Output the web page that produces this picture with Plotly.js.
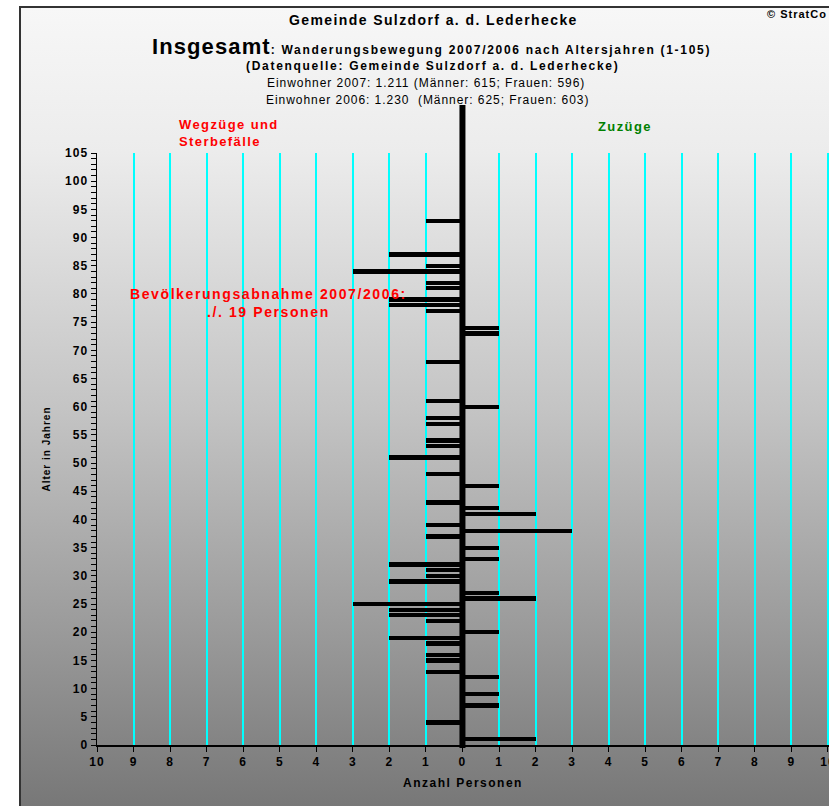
<!DOCTYPE html>
<html>
<head>
<meta charset="utf-8">
<script src="https://cdn.plot.ly/plotly-3.0.1.min.js"></script>
<style>
  html, body { margin:0; padding:0; background:#ffffff; width:829px; height:806px; overflow:hidden; }
  #bg { position:absolute; left:19px; top:6px; width:810px; height:800px;
        border-left:2px solid #333; border-top:2px solid #333;
        background: linear-gradient(to bottom, #f7f7f7 0%, #ececec 18%, #c4c4c4 50%, #9a9a9a 78%, #777777 100%); }
  #chart { position:absolute; left:0; top:0; width:829px; height:806px; }
  .xtick text, .ytick text { letter-spacing: 1px; }
</style>
</head>
<body>
<div id="bg"></div>
<div id="chart"></div>
<script>
// ---- Data ----
const leftAges   = [93,87,85,84,82,81,79,78,77,68,61,58,57,54,53,51,48,43,39,37,32,31,30,29,25,24,23,22,19,18,16,15,13,4];
const leftCounts = [1,2,1,3,1,1,2,2,1,1,1,1,1,1,1,2,1,1,1,1,2,1,1,2,3,2,2,1,2,1,1,1,1,1];
const rightAges   = [74,73,60,46,42,41,38,35,33,27,26,20,12,9,7,1];
const rightCounts = [1,1,1,1,1,2,3,1,1,1,2,1,1,1,1,2];
const xTickVals = [-10,-9,-8,-7,-6,-5,-4,-3,-2,-1,0,1,2,3,4,5,6,7,8,9,10];
const xTickText = ['10','9','8','7','6','5','4','3','2','1','0','1','2','3','4','5','6','7','8','9','10'];

// ---- Layout helpers (pixel -> paper) ----
const L = 97, R = 829, T = 153, B = 745;
const W = 829, H = 806;
const px = x => (x - L) / (R - L);
const py = y => (B - y) / (B - T);
const FONT = 'Liberation Sans, Arial, sans-serif';
const sp = (t, ls) => '<span style="letter-spacing:' + ls + 'px">' + t + '</span>';
const XRANGE = [-10, 10.03];

const traces = [
  { type:'bar', orientation:'h', y:leftAges, x:leftCounts.map(v => -v),
    marker:{color:'#000000'}, width:0.75, hoverinfo:'skip', showlegend:false },
  { type:'bar', orientation:'h', y:rightAges, x:rightCounts,
    marker:{color:'#000000'}, width:0.75, hoverinfo:'skip', showlegend:false }
];

function ann(text, x, y, size, color, opts) {
  return Object.assign({ text:text, xref:'paper', yref:'paper', x:px(x), y:py(y),
    showarrow:false, xanchor:'center', yanchor:'middle',
    font:{family:FONT, size:size, color:color} }, opts || {});
}

const layout = {
  width:W, height:H,
  margin:{l:L, r:W-R, t:T, b:H-B, pad:0},
  paper_bgcolor:'rgba(0,0,0,0)', plot_bgcolor:'rgba(0,0,0,0)',
  barmode:'overlay', bargap:0,
  font:{family:FONT, color:'#000'},
  xaxis:{ range:XRANGE, tickmode:'array', tickvals:xTickVals, ticktext:xTickText,
    ticklabeloverflow:'allow',
    showgrid:true, gridcolor:'#00ffff', gridwidth:2, zeroline:false,
    showline:true, linecolor:'#000', linewidth:1.5,
    ticks:'outside', ticklen:5, tickwidth:1, tickcolor:'#000',
    tickfont:{family:FONT, size:12, color:'#000', weight:'bold'},
    title:{ text:'<b>' + sp('Anzahl Personen', 1.5) + '</b>', font:{family:FONT, size:12, color:'#000'}, standoff:10 },
    fixedrange:true },
  xaxis2:{ overlaying:'x', range:XRANGE, tickmode:'array', tickvals:xTickVals,
    showticklabels:false, showgrid:false, zeroline:false, ticks:'inside', ticklen:3, tickcolor:'#000', side:'bottom', anchor:'y' },
  yaxis:{ range:[0,105], tickmode:'linear', tick0:0, dtick:5,
    showgrid:false, zeroline:false, showline:true, linecolor:'#000', linewidth:1.5,
    ticks:'outside', ticklen:5, tickcolor:'#000',
    minor:{ dtick:1, ticks:'outside', ticklen:5, tickcolor:'#000', showgrid:false },
    tickfont:{family:FONT, size:12, color:'#000', weight:'bold'},
    title:{ text:'<b>' + sp('Alter in Jahren', 1) + '</b>', font:{family:FONT, size:10, color:'#000'}, standoff:12 },
    fixedrange:true },
  yaxis2:{ overlaying:'y', range:[0,105], tickmode:'linear', tick0:0, dtick:1,
    showticklabels:false, showgrid:false, zeroline:false, ticks:'inside', ticklen:4, tickcolor:'#000', side:'left', anchor:'x' },
  shapes:[
    { type:'line', xref:'x', yref:'paper', x0:0, x1:0, y0:py(748), y1:py(105),
      line:{color:'#000', width:6} }
  ],
  annotations:[
    ann('<b>' + sp('Gemeinde Sulzdorf a. d. Lederhecke', 1.4) + '</b>', 433, 20, 14, '#000'),
    ann('<b>' + sp('© StratCo', 1) + '</b>', 765, 14, 11, '#000', {xanchor:'left'}),
    ann('<b><span style="font-size:22px;letter-spacing:1.1px">Insgesamt</span>' + sp(': Wanderungsbewegung 2007/2006 nach Altersjahren (1-105)', 1.7) + '</b>', 431, 46, 12, '#000'),
    ann('<b>' + sp('(Datenquelle: Gemeinde Sulzdorf a. d. Lederhecke)', 1.7) + '</b>', 432, 66, 12, '#000'),
    ann(sp('Einwohner 2007: 1.211 (Männer: 615; Frauen: 596)', 0.95), 426, 83, 12, '#000'),
    ann(sp('Einwohner 2006: 1.230  (Männer: 625; Frauen: 603)', 0.95), 427, 100, 12, '#000'),
    ann('<b>' + sp('Wegzüge und', 1.4) + '<br>' + sp('Sterbefälle', 1.4) + '</b>', 177, 133, 13, '#ff0000', {xanchor:'left', align:'left'}),
    ann('<b>' + sp('Zuzüge', 1.4) + '</b>', 625, 126, 13, '#008000'),
    ann('<b>' + sp('Bevölkerungsabnahme 2007/2006:', 1.6) + '<br>' + sp('./. 19 Personen', 1.6) + '</b>', 268, 303, 14, '#ff0000', {align:'center'})
  ]
};

Plotly.newPlot('chart', traces, layout, {displayModeBar:false, staticPlot:true});
</script>
</body>
</html>
